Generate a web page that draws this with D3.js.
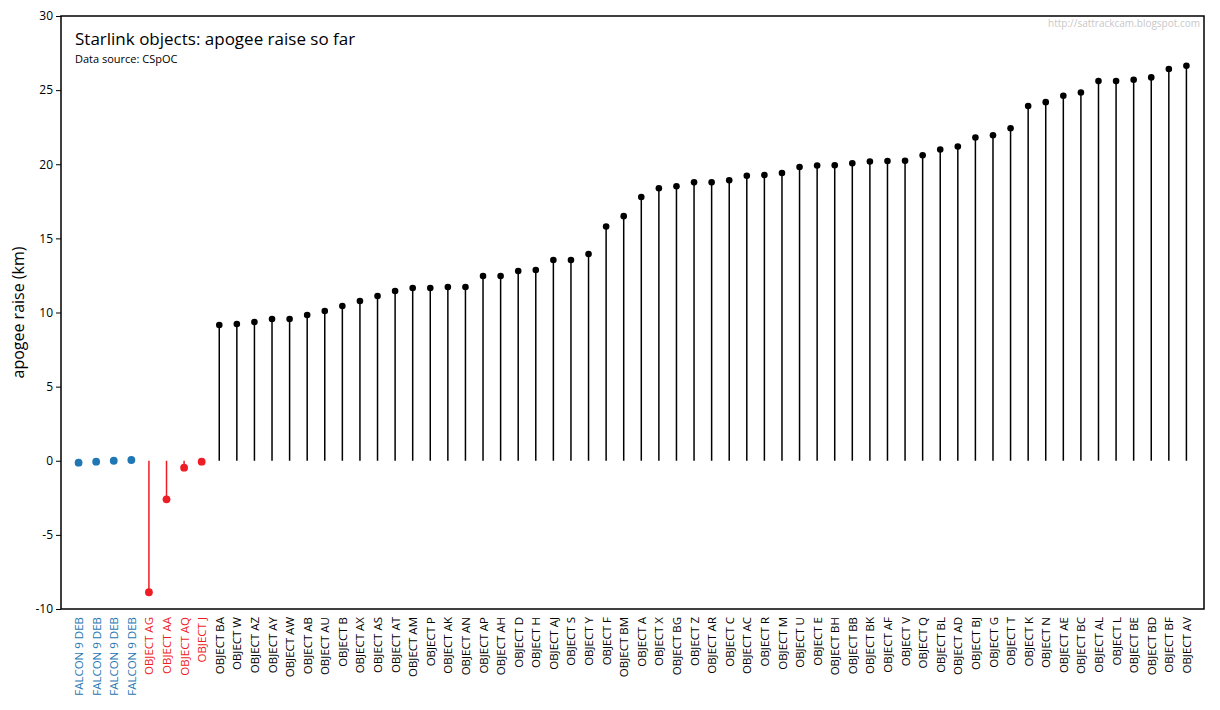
<!DOCTYPE html>
<html>
<head>
<meta charset="utf-8">
<script src="https://cdn.jsdelivr.net/npm/d3@7"></script>
<style>
  html, body { margin: 0; padding: 0; background: #fff; }
  svg { display: block; }
  text { font-family: "Open Sans", "Noto Sans", sans-serif; }
</style>
</head>
<body>
<svg id="chart" width="1220" height="710"></svg>
<script>
// ---- data ----
const categories = [
  "FALCON 9 DEB","FALCON 9 DEB","FALCON 9 DEB","FALCON 9 DEB",
  "OBJECT AG","OBJECT AA","OBJECT AQ","OBJECT J",
  "OBJECT BA","OBJECT W","OBJECT AZ","OBJECT AY","OBJECT AW","OBJECT AB","OBJECT AU","OBJECT B",
  "OBJECT AX","OBJECT AS","OBJECT AT","OBJECT AM","OBJECT P","OBJECT AK","OBJECT AN","OBJECT AP",
  "OBJECT AH","OBJECT D","OBJECT H","OBJECT AJ","OBJECT S","OBJECT Y","OBJECT F","OBJECT BM",
  "OBJECT A","OBJECT X","OBJECT BG","OBJECT Z","OBJECT AR","OBJECT C","OBJECT AC","OBJECT R",
  "OBJECT M","OBJECT U","OBJECT E","OBJECT BH","OBJECT BB","OBJECT BK","OBJECT AF","OBJECT V",
  "OBJECT Q","OBJECT BL","OBJECT AD","OBJECT BJ","OBJECT G","OBJECT T","OBJECT K","OBJECT N",
  "OBJECT AE","OBJECT BC","OBJECT AL","OBJECT L","OBJECT BE","OBJECT BD","OBJECT BF","OBJECT AV"
];
const groups = [
  "debris","debris","debris","debris",
  "lowered","lowered","lowered","lowered",
  "raised","raised","raised","raised","raised","raised","raised","raised",
  "raised","raised","raised","raised","raised","raised","raised","raised",
  "raised","raised","raised","raised","raised","raised","raised","raised",
  "raised","raised","raised","raised","raised","raised","raised","raised",
  "raised","raised","raised","raised","raised","raised","raised","raised",
  "raised","raised","raised","raised","raised","raised","raised","raised",
  "raised","raised","raised","raised","raised","raised","raised","raised"
];
const apogeeRaise = [
  -0.13, -0.06, 0.0, 0.05,
  -8.87, -2.6, -0.47, -0.06,
  9.16, 9.22, 9.36, 9.56, 9.56, 9.83, 10.1, 10.44,
  10.78, 11.11, 11.45, 11.65, 11.65, 11.72, 11.72, 12.46,
  12.46, 12.8, 12.87, 13.54, 13.54, 13.95, 15.8, 16.5,
  17.79, 18.38, 18.52, 18.78, 18.78, 18.92, 19.22, 19.27,
  19.41, 19.81, 19.92, 19.93, 20.07, 20.19, 20.22, 20.23,
  20.61, 21.0, 21.2, 21.8, 21.96, 22.43, 23.93, 24.19,
  24.62, 24.84, 25.61, 25.61, 25.7, 25.86, 26.43, 26.64
];
const yTicks = [-10, -5, 0, 5, 10, 15, 20, 25, 30];
const groupColors = { debris: "#1f77b4", lowered: "#ee1c25", raised: "#000000" };
const titleText = "Starlink objects: apogee raise so far";
const subtitleText = "Data source: CSpOC";
const watermarkText = "http://sattrackcam.blogspot.com";
const yLabelText = "apogee raise (km)";

// ---- layout ----
const margin = { left: 61, right: 16, top: 16, bottom: 101 };
const W = 1220, H = 710;
const plotL = margin.left, plotR = W - margin.right, plotT = margin.top, plotB = H - margin.bottom;

const svg = d3.select("#chart");
const idx = d3.range(categories.length);

const x = d3.scalePoint().domain(idx).range([plotL, plotR]).padding(1);
const y = d3.scaleLinear().domain([-10, 30]).range([plotB, plotT]);

// stems
svg.append("g").selectAll("line").data(idx).join("line")
  .attr("x1", i => x(i)).attr("x2", i => x(i))
  .attr("y1", y(0)).attr("y2", i => y(apogeeRaise[i]))
  .attr("stroke", i => groupColors[groups[i]])
  .attr("stroke-width", 1.5);

// dots
svg.append("g").selectAll("circle").data(idx).join("circle")
  .attr("cx", i => x(i)).attr("cy", i => y(apogeeRaise[i]))
  .attr("r", i => groups[i] === "raised" ? 3.3 : 3.9)
  .attr("fill", i => groupColors[groups[i]]);

// frame
svg.append("rect")
  .attr("x", plotL).attr("y", plotT)
  .attr("width", plotR - plotL).attr("height", plotB - plotT)
  .attr("fill", "none").attr("stroke", "#000").attr("stroke-width", 1.5);

// y axis
const yAxis = svg.append("g")
  .attr("transform", `translate(${plotL},0)`)
  .call(d3.axisLeft(y).tickValues(yTicks).tickSize(5).tickPadding(3).tickFormat(d => String(d)));
yAxis.select(".domain").remove();
yAxis.selectAll("line").attr("stroke", "#000").attr("stroke-width", 1);
yAxis.selectAll("text").attr("font-size", 12).attr("fill", "#000")
  .style("font-family", '"Open Sans", "Noto Sans", sans-serif');

// x labels
const xAxis = svg.append("g")
  .attr("transform", `translate(0,${plotB})`)
  .call(d3.axisBottom(x).tickSize(0).tickFormat(i => categories[i]));
xAxis.select(".domain").remove();
xAxis.selectAll("text")
  .attr("transform", "rotate(-90)")
  .attr("text-anchor", "end")
  .attr("x", -8).attr("y", 0).attr("dy", "0.35em")
  .attr("font-size", 11.5)
  .style("font-family", '"Open Sans", "Noto Sans", sans-serif')
  .attr("fill", i => groupColors[groups[i]]);

// y label
svg.append("text")
  .attr("transform", `translate(24,${(plotT + plotB) / 2}) rotate(-90)`)
  .attr("text-anchor", "middle")
  .attr("font-size", 16)
  .text(yLabelText);

// title & subtitle
svg.append("text").attr("x", 75).attr("y", 45).attr("font-size", 17).text(titleText);
svg.append("text").attr("x", 75).attr("y", 63).attr("font-size", 11).text(subtitleText);

// watermark
svg.append("text").attr("x", 1200).attr("y", 27).attr("text-anchor", "end")
  .attr("font-size", 10).attr("fill", "#c8c8c8").text(watermarkText);
</script>
</body>
</html>
